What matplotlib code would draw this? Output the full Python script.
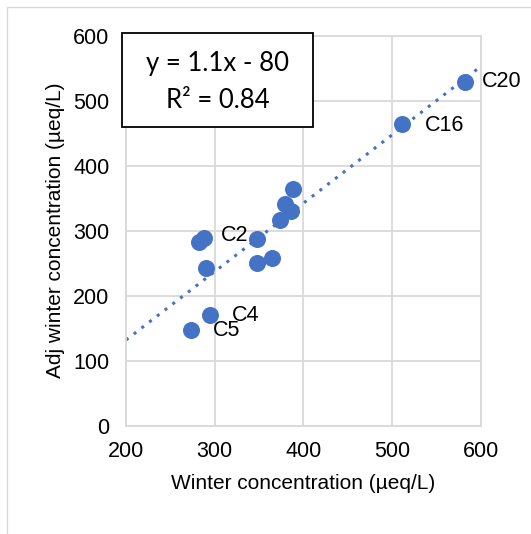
import matplotlib
matplotlib.use("Agg")
import matplotlib.pyplot as plt
import numpy as np
from matplotlib.patches import Rectangle

# Data
winter = [582, 511, 388, 379, 385.5, 373, 348, 364, 348, 288, 282.6, 290, 294.6, 273]
adj = [529, 464, 364, 341, 331, 317, 287, 258, 251, 288, 283, 243, 171, 147]
point_labels = ["C20", "C16", "", "", "", "", "", "", "", "C2", "", "", "C4", "C5"]
label_offsets = {"C20": (17, 0), "C16": (23, -1), "C2": (17, 3), "C4": (22, -1), "C5": (22, 0)}
x_ticks = [200, 300, 400, 500, 600]
y_ticks = [0, 100, 200, 300, 400, 500, 600]
equation_lines = ["y = 1.1x - 80", "R² = 0.84"]

blue = "#4472C4"
grid = "#D9D9D9"
plt.rcParams['font.family'] = ['Liberation Sans', 'DejaVu Sans']

fig = plt.figure(figsize=(5.31, 5.34), dpi=100)
ax = fig.add_axes([0.2373, 0.2028, 0.9058 - 0.2373, 0.9332 - 0.2028])

# chart area border (left & top)
fig.patches.append(Rectangle((7/531, -0.1), 1.2, (534 - 7)/534 + 0.1, transform=fig.transFigure,
                             fill=False, edgecolor=grid, linewidth=1.0))

ax.set_xlim(200, 600)
ax.set_ylim(0, 600)
ax.set_xticks(x_ticks)
ax.set_yticks(y_ticks)
ax.grid(True, color=grid, linewidth=1.3)
ax.set_axisbelow(True)
for s in ax.spines.values():
    s.set_color(grid)
    s.set_linewidth(1.3)
ax.tick_params(axis="x", length=0, labelsize=15.5, colors="#000000", pad=11)
ax.tick_params(axis="y", length=0, labelsize=15.5, colors="#000000", pad=12)

# trendline
coef = np.polyfit(winter, adj, 1)
xs = np.array([200, 600])
ax.plot(xs, np.polyval(coef, xs), linestyle=(0, (1, 2.2)), color=blue, linewidth=2.2,
        clip_on=False, zorder=2)

ax.scatter(winter, adj, s=150, color=blue, zorder=3, clip_on=False, linewidths=0)

for x, y, lab in zip(winter, adj, point_labels):
    if lab:
        dx, dy = label_offsets[lab]
        ax.annotate(lab, (x, y), xytext=(dx, dy), textcoords="offset pixels",
                    ha="left", va="center", fontsize=15.5, zorder=4)

ax.set_xlabel("Winter concentration (µeq/L)", fontsize=15, labelpad=9)
ax.set_ylabel("Adj winter concentration (µeq/L)", fontsize=15, labelpad=6)

# equation box
fig.patches.append(Rectangle((122/531, 1 - 127/534), (313 - 122)/531, (127 - 33)/534,
                             transform=fig.transFigure, facecolor="white",
                             edgecolor="black", linewidth=1.3, zorder=4))
for line, ypix in zip(equation_lines, [63, 100]):
    fig.text(217.5/531, 1 - (ypix/534), line,
             ha="center", va="center", fontsize=18.5, family=['Lato', 'DejaVu Sans'],
             zorder=6)

fig.savefig("out.png", dpi=100)
